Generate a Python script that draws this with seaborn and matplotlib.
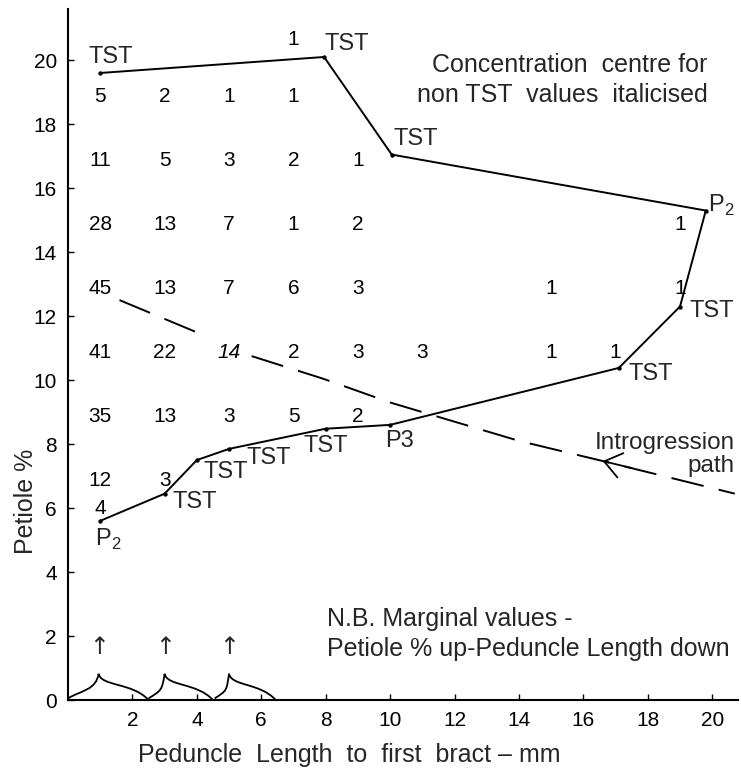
import numpy as np
import pandas as pd
import matplotlib.pyplot as plt
from matplotlib.path import Path
from matplotlib.patches import PathPatch
import seaborn as sns

# frequency counts: peduncle length (mm), petiole %, number of plants
cell_x = [1, 3, 5, 7,
          1, 3, 5, 7, 9,
          1, 3, 5, 7, 9, 19,
          1, 3, 5, 7, 9, 15, 19,
          1, 3, 5, 7, 9, 11, 15, 17,
          1, 3, 5, 7, 9,
          1, 3, 1, 7]
cell_y = [19, 19, 19, 19,
          17, 17, 17, 17, 17,
          15, 15, 15, 15, 15, 15,
          13, 13, 13, 13, 13, 13, 13,
          11, 11, 11, 11, 11, 11, 11, 11,
          9, 9, 9, 9, 9,
          7, 7, 6.15, 20.8]
cell_n = [5, 2, 1, 1,
          11, 5, 3, 2, 1,
          28, 13, 7, 1, 2, 1,
          45, 13, 7, 6, 3, 1, 1,
          41, 22, 14, 2, 3, 3, 1, 1,
          35, 13, 3, 5, 2,
          12, 3, 4, 1]
centre_cell = (5, 11)  # concentration centre for non TST values

# TST / parent path
tst_x = [1, 3, 4, 5, 8, 10.0, 17.1, 19, 19.8, 10.05, 7.95, 1]
tst_y = [5.6, 6.45, 7.5, 7.85, 8.48, 8.6, 10.38, 12.3, 15.3, 17.05, 20.1, 19.6]
tst_lab = ['P$_\\mathregular{2}$', 'TST', 'TST', 'TST', 'TST', 'P3',
           'TST', 'TST', 'P$_\\mathregular{2}$', 'TST', 'TST', 'TST']

# introgression path (two dashed pieces, broken at the "14")
intro_x = [1.6, 4.1, 5.7, 7.9, 10.0, 14.0, 16.6, 20.7]
intro_y = [12.5, 11.45, 10.75, 10.05, 9.3, 8.1, 7.47, 6.45]
intro_seg = [0, 0, 1, 1, 1, 1, 1, 1]

# marginal brackets: start, peak, end on peduncle axis
brace_start = [0.0, 2.5, 4.55]
brace_peak = [0.95, 3.0, 5.0]
brace_end = [2.5, 4.5, 6.45]

sns.set_theme(style='ticks')
plt.rcParams['font.family'] = ['Liberation Sans', 'DejaVu Sans']
plt.rcParams['mathtext.fontset'] = 'custom'
plt.rcParams['mathtext.rm'] = 'Liberation Sans'

fig = plt.figure(figsize=(7.41, 7.68), dpi=100)
ax = fig.add_axes([68 / 741, 68 / 768, 670 / 741, 691 / 768])

# count grid
for x, y, n in zip(cell_x, cell_y, cell_n):
    style = 'italic' if (x, y) == centre_cell else 'normal'
    ax.text(x, y - 0.15, str(n), ha='center', va='center', fontsize=15,
            style=style, color='black')

# solid TST path
sns.lineplot(x=tst_x, y=tst_y, sort=False, estimator=None, color='black',
             lw=1.4, ax=ax)
sns.scatterplot(x=tst_x, y=tst_y, s=10, color='black', linewidth=0, ax=ax)

lab_off = [(-0.15, -0.57, 'left'), (0.25, -0.25, 'left'), (0.2, -0.38, 'left'),
           (0.55, -0.3, 'left'), (0.0, -0.53, 'center'), (0.3, -0.5, 'center'),
           (0.3, -0.2, 'left'), (0.3, -0.15, 'left'), (0.08, 0.15, 'left'),
           (0.05, 0.48, 'left'), (0.0, 0.4, 'left'), (-0.35, 0.5, 'left')]
for x, y, lab, (dx, dy, ha) in zip(tst_x, tst_y, tst_lab, lab_off):
    ax.text(x + dx, y + dy, lab, ha=ha, va='center', fontsize=17)

# dashed introgression path
intro = pd.DataFrame({'x': intro_x, 'y': intro_y, 'seg': intro_seg})
sns.lineplot(data=intro, x='x', y='y', units='seg', estimator=None, sort=False,
             color='black', lw=1.4, dashes=False, linestyle=(0, (17, 8)), ax=ax)
ax.annotate('', xy=(intro_x[6], intro_y[6]), xytext=(intro_x[6] + 0.9, intro_y[6] - 0.22),
            arrowprops=dict(arrowstyle='->,head_length=0.6,head_width=0.45',
                            lw=1.3, color='black', mutation_scale=20,
                            shrinkA=0, shrinkB=0))

# marginal brackets and arrows
for x0, xc, x1 in zip(brace_start, brace_peak, brace_end):
    verts = [(x0, 0.05), (x0 + 0.4, 0.3), (xc - 0.08, 0.3), (xc, 0.82),
             (xc + 0.08, 0.42), (x1 - 0.5, 0.55), (x1, 0.0)]
    codes = [Path.MOVETO, Path.CURVE4, Path.CURVE4, Path.CURVE4,
             Path.CURVE4, Path.CURVE4, Path.CURVE4]
    ax.add_patch(PathPatch(Path(verts, codes), fill=False, lw=1.3, color='black'))
    ax.text(xc, 1.65, '↑', ha='center', va='center', fontsize=17,
            family='DejaVu Sans')

# notes
ax.text(19.85, 19.62, 'Concentration  centre for', ha='right', va='baseline', fontsize=18)
ax.text(19.85, 18.7, 'non TST  values  italicised', ha='right', va='baseline', fontsize=18)
ax.text(20.7, 7.86, 'Introgression', ha='right', va='baseline', fontsize=17.5)
ax.text(20.7, 7.12, 'path', ha='right', va='baseline', fontsize=17.5)
ax.text(8.05, 2.31, 'N.B. Marginal values -', ha='left', va='baseline', fontsize=18)
ax.text(8.05, 1.37, 'Petiole % up-Peduncle Length down', ha='left', va='baseline', fontsize=18)

ax.set_xlim(0, 20.8)
ax.set_ylim(0, 21.6)
ax.set_xticks(np.arange(2, 21, 2))
ax.set_yticks(np.arange(0, 21, 2))
ax.tick_params(direction='in', length=4, width=1, labelsize=15, pad=8, colors='black')
for s in ['left', 'bottom']:
    ax.spines[s].set_linewidth(1.5)
    ax.spines[s].set_color('black')
sns.despine(ax=ax)

ax.set_xlabel('Peduncle  Length  to  first  bract – mm', fontsize=18)
ax.set_ylabel('Petiole %', fontsize=18)
ax.xaxis.set_label_coords(0.42, -0.062)
ax.yaxis.set_label_coords(-0.045, 0.287)

fig.savefig('out.png', dpi=100)
